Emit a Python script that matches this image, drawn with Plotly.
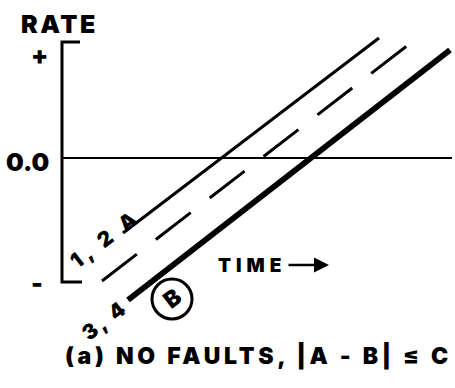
import plotly.graph_objects as go

# Rate-vs-time traces (time and rate in chart units)
time_A = [0.61, 3.17]
rate_A = [-0.75, 1.20]
time_mid = [0.40, 3.50]
rate_mid = [-1.23, 1.16]
time_B = [0.66, 3.88]
rate_B = [-1.42, 1.08]
time_zero = [0.0, 3.90]
rate_zero = [0.0, 0.0]

# Rate scale bracket limits
rate_top = 1.16
rate_bottom = -1.24

FONT = "Inter"
INK = "black"


def spaced(text, px=0):
    if px:
        return f'<span style="letter-spacing:{px}px">{text}</span>'
    return text


fig = go.Figure()

fig.add_trace(go.Scatter(x=time_zero, y=rate_zero, mode="lines",
                         line=dict(color=INK, width=2)))
fig.add_trace(go.Scatter(x=time_A, y=rate_A, mode="lines",
                         line=dict(color=INK, width=3)))
fig.add_trace(go.Scatter(x=time_mid, y=rate_mid, mode="lines",
                         line=dict(color=INK, width=3, dash="44px,24px")))
fig.add_trace(go.Scatter(x=time_B, y=rate_B, mode="lines",
                         line=dict(color=INK, width=6)))

# Bracket-style rate axis
fig.add_shape(type="path",
              path=f"M 0.18,{rate_top} L 0,{rate_top} L 0,{rate_bottom} L 0.20,{rate_bottom}",
              xref="x", yref="y", line=dict(color=INK, width=3))

# Circle around B
fig.add_shape(type="circle", xref="x", yref="y",
              x0=1.10 - 0.20, x1=1.10 + 0.20, y0=-1.41 - 0.20, y1=-1.41 + 0.20,
              line=dict(color=INK, width=3))


def label(text, x, y, size, angle=0, xref="x", yref="y"):
    fig.add_annotation(x=x, y=y, xref=xref, yref=yref, text=text, showarrow=False,
                       textangle=angle, xanchor="center", yanchor="middle",
                       font=dict(family=FONT, size=size, color=INK, weight=900))


slope_angle = -37.6

label(spaced("RATE", 2.5), -0.03, 1.34, 25)
label("+", -0.23, 1.03, 25)
label("0.0", -0.35, -0.04, 25)
label("-", -0.25, -1.25, 25)
label(spaced("1, 2 A", 4.5), 0.43, -0.80, 21, slope_angle)
label(spaced("3, 4", 3), 0.42, -1.62, 21, slope_angle)
label("B", 1.10, -1.41, 23, slope_angle)
label(spaced("TIME", 5), 1.90, -1.07, 19)

# Time arrow
fig.add_annotation(x=2.67, y=-1.07, ax=2.25, ay=-1.07, xref="x", yref="y",
                   axref="x", ayref="y", text="", showarrow=True,
                   arrowhead=2, arrowsize=1.2, arrowwidth=2.5, arrowcolor=INK)

label(spaced("(a) NO FAULTS, |A - B| ≤ C", 3.7), 0.568, 0.0825, 23,
      xref="paper", yref="paper")

fig.update_layout(
    width=455, height=388,
    margin=dict(l=0, r=0, t=0, b=0),
    paper_bgcolor="white", plot_bgcolor="white",
    showlegend=False,
    xaxis=dict(range=[-0.62, 3.93], visible=False, fixedrange=True),
    yaxis=dict(range=[-2.30, 1.58], visible=False, fixedrange=True),
)

fig.write_html("out.html")
